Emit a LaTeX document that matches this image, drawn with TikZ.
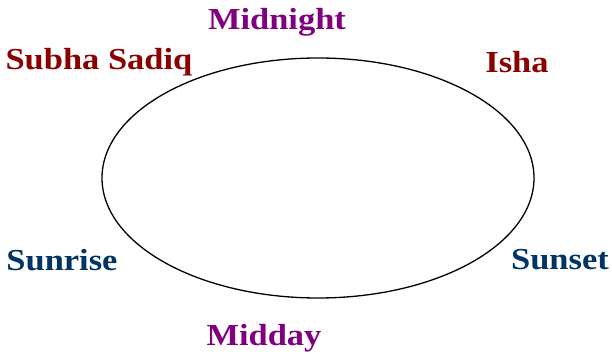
\documentclass[tikz,border=0pt]{standalone}
\usepackage{fontspec}
\setmainfont{Liberation Serif}[BoldFeatures={FakeStretch=1.13}]
\usetikzlibrary{shapes.geometric}
\definecolor{lblpurple}{HTML}{800080}
\definecolor{lblred}{HTML}{8B0000}
\definecolor{lblblue}{HTML}{003366}
\tikzset{lbl/.style={inner sep=0pt, font=\fontsize{30.5}{34}\selectfont\bfseries}}
\begin{document}
\begin{tikzpicture}[x=1pt,y=1pt]
\useasboundingbox (0,0) rectangle (612,353);
\node[draw, line width=1.3pt, ellipse, minimum width=432, minimum height=240, inner sep=0pt] (orbit) at (318,175) {};
\node[lbl, text=lblpurple] (midnight) at (277,331) {Midnight};
\node[lbl, text=lblred] (subha) at (99,291) {Subha Sadiq};
\node[lbl, text=lblred] (isha) at (517,291) {Isha};
\node[lbl, text=lblblue] (sunrise) at (62,93) {Sunrise};
\node[lbl, text=lblblue] (sunset) at (560,93) {Sunset};
\node[lbl, text=lblpurple] (midday) at (264,15) {Midday};
\end{tikzpicture}
\end{document}
